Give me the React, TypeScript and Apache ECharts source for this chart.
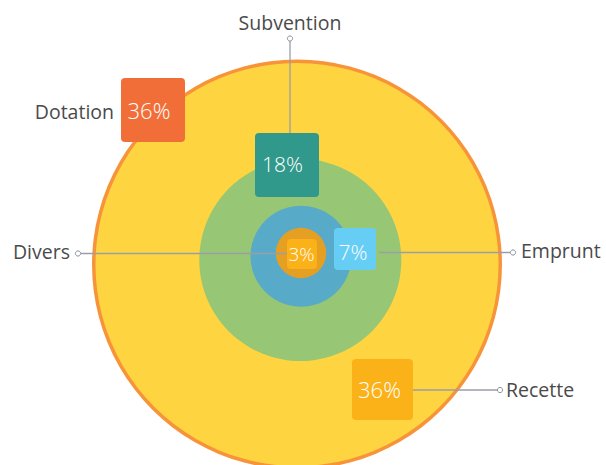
import React, { useEffect, useRef } from "react";
import * as echarts from "echarts";

// ---- data ----
const categories = ["Dotation", "Recette", "Subvention", "Emprunt", "Divers"];
const percents = [36, 36, 18, 7, 3];

// ---- layout & style (pixel-unit axes, 1 unit = 1px) ----
type Lay = {
  cx: number; cy: number; r: number; circle: string;
  bx: number; by: number; bs: number; box: string; tx: number; ty: number; fs: number;
  line: number[] | null; dot: number[] | null;
  lx: number; ly: number; la: string;
};
const layout: Record<string, Lay> = {
  Dotation: { cx: 297, cy: 264.5, r: 205, circle: "#F7943A", bx: 121, by: 78, bs: 64, box: "#F26E38", tx: 149, ty: 110, fs: 22, line: null, dot: null, lx: 114, ly: 111, la: "right" },
  Recette: { cx: 297, cy: 264.5, r: 201.5, circle: "#FED440", bx: 352, by: 359, bs: 61, box: "#FBB118", tx: 379.5, ty: 389, fs: 22, line: [413, 390, 500, 390], dot: [500, 390], lx: 506, ly: 389, la: "left" },
  Subvention: { cx: 300.3, cy: 260, r: 101, circle: "#97C674", bx: 255, by: 133, bs: 64, box: "#30998B", tx: 282.5, ty: 164, fs: 21, line: [290, 41, 290, 133], dot: [290, 38.5], lx: 290, ly: 22, la: "center" },
  Emprunt: { cx: 301, cy: 256.3, r: 50.5, circle: "#57AAC8", bx: 334, by: 228, bs: 42, box: "#66CEF4", tx: 353, ty: 252, fs: 21, line: [379, 252.5, 510, 252.5], dot: [513, 252.5], lx: 521, ly: 250, la: "left" },
  Divers: { cx: 301, cy: 253, r: 25.2, circle: "#E59F23", bx: 287, by: 239, bs: 30, box: "#FBB118", tx: 301.5, ty: 254, fs: 19, line: [81, 253.5, 287, 253.5], dot: [78, 253.5], lx: 70, ly: 251, la: "right" },
};

const NAME_FONT = "'Open Sans', Lato, sans-serif";
const PCT_FONT = "'Open Sans', Lato, sans-serif";

export default function App() {
  const ref = useRef<HTMLDivElement>(null);
  useEffect(() => {
    if (!ref.current) return;
    const chart = echarts.init(ref.current, undefined, { renderer: "svg" });
    const data = categories.map((name, i) => ({ name, value: [i, percents[i]] }));

    const circleItem = (params: any, api: any) => {
      const name = categories[api.value(0)];
      const L = layout[name];
      const c = api.coord([L.cx, L.cy]);
      const r = api.size([L.r, 0])[0];
      return { type: "circle", shape: { cx: c[0], cy: c[1], r }, style: { fill: L.circle } };
    };

    const labelItem = (params: any, api: any) => {
      const idx = api.value(0);
      const name = categories[idx];
      const pct = api.value(1);
      const L = layout[name];
      const children: any[] = [];
      if (L.line) {
        const p1 = api.coord([L.line[0], L.line[1]]);
        const p2 = api.coord([L.line[2], L.line[3]]);
        children.push({ type: "line", shape: { x1: p1[0], y1: p1[1], x2: p2[0], y2: p2[1] }, style: { stroke: "#9A9EA6", lineWidth: 1.3 } });
      }
      if (L.dot) {
        const d = api.coord(L.dot);
        children.push({ type: "circle", shape: { cx: d[0], cy: d[1], r: 2.6 }, style: { fill: "#fff", stroke: "#8C9099", lineWidth: 1 } });
      }
      const b = api.coord([L.bx, L.by]);
      const bs = api.size([L.bs, L.bs]);
      children.push({ type: "rect", shape: { x: b[0], y: b[1], width: bs[0], height: bs[1], r: 4 }, style: { fill: L.box } });
      const t = api.coord([L.tx, L.ty]);
      children.push({
        type: "text",
        style: { text: pct + "%", x: t[0], y: t[1], fill: "#ffffff", fontSize: L.fs, fontFamily: PCT_FONT, fontWeight: 300, align: "center", verticalAlign: "middle" },
      });
      const l = api.coord([L.lx, L.ly]);
      children.push({
        type: "text",
        style: { text: name, x: l[0], y: l[1], fill: "#4A4A4A", fontSize: 19.5, fontFamily: NAME_FONT, fontWeight: 400, align: L.la, verticalAlign: "middle" },
      });
      return { type: "group", children };
    };

    chart.setOption({
      animation: false,
      grid: { left: 0, right: 0, top: 0, bottom: 0 },
      xAxis: { type: "value", min: 0, max: 606, show: false },
      yAxis: { type: "value", min: 0, max: 465, inverse: true, show: false },
      series: [
        { type: "custom", renderItem: circleItem, data, clip: false, silent: true, z: 1 },
        { type: "custom", renderItem: labelItem, data, clip: false, silent: true, z: 2 },
      ],
    });
    return () => chart.dispose();
  }, []);
  return <div ref={ref} style={{ position: "fixed", left: 0, top: 0, width: 606, height: 465, background: "#fff" }} />;
}
